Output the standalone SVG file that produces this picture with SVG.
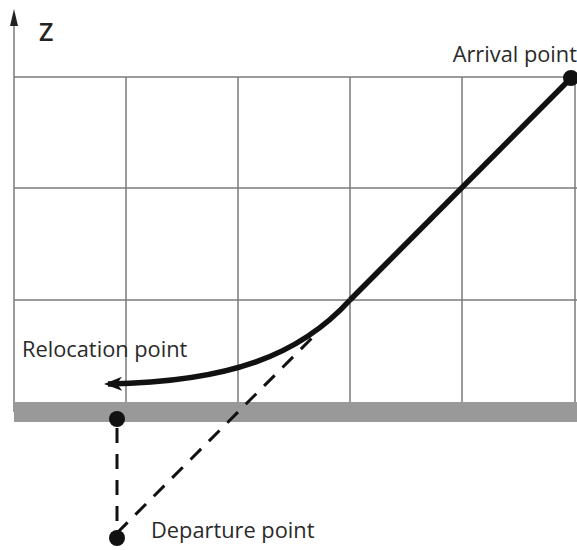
<svg xmlns="http://www.w3.org/2000/svg" width="577" height="550" viewBox="0 0 577 550">
<style>
.grid{stroke:#7a7a7a;stroke-width:1.5;fill:none}
.lbl{font-family:"Open Sans","Liberation Sans",sans-serif;font-size:21.8px;fill:#2a2a2a}
.dash{stroke:#111;stroke-width:3;stroke-dasharray:15,11;fill:none}
.dot{fill:#111}
</style>
<defs>
<marker id="ah" markerWidth="18" markerHeight="14" refX="14" refY="7" orient="auto" markerUnits="userSpaceOnUse" viewBox="0 0 18 14">
<path d="M0,0 L18,7 L0,14 L5,7 Z" fill="#111"/>
</marker>
</defs>
<rect width="577" height="550" fill="#fff"/>
<g id="grid">
<line class="grid" x1="14" y1="77" x2="577" y2="77"/>
<line class="grid" x1="14" y1="188" x2="577" y2="188"/>
<line class="grid" x1="14" y1="300" x2="577" y2="300"/>
<line class="grid" x1="126" y1="77" x2="126" y2="402"/>
<line class="grid" x1="238" y1="77" x2="238" y2="402"/>
<line class="grid" x1="350" y1="77" x2="350" y2="402"/>
<line class="grid" x1="462" y1="77" x2="462" y2="402"/>
<line class="grid" x1="575" y1="77" x2="575" y2="402"/>
</g>
<g id="axis">
<line class="grid" x1="14" y1="14" x2="14" y2="412"/>
<path d="M14,9 L18,26 L10,26 Z" fill="#222"/>
<text x="39" y="41" style="font-family:'Open Sans','Liberation Sans',sans-serif;font-size:25px;font-weight:600;fill:#222">Z</text>
</g>
<g id="ground">
<rect x="14" y="402" width="563" height="20" fill="#999"/>
</g>
<g id="connectors">
<path d="M571,78 L350,300" stroke="#111" stroke-width="5.5" fill="none"/>
<path d="M350,300 C300,355 230,382 108,384" stroke="#111" stroke-width="5.5" fill="none" marker-end="url(#ah)"/>
<line class="dash" x1="117" y1="533" x2="317" y2="333"/>
<line class="dash" x1="117" y1="428" x2="117" y2="530"/>
</g>
<g id="arrival">
<circle class="dot" cx="571" cy="78" r="8"/>
<text class="lbl" x="577" y="62" text-anchor="end">Arrival point</text>
</g>
<g id="relocation">
<circle class="dot" cx="117" cy="419" r="8"/>
<text class="lbl" x="22" y="357">Relocation point</text>
</g>
<g id="departure">
<circle class="dot" cx="117" cy="538" r="8"/>
<text class="lbl" x="151" y="538">Departure point</text>
</g>
</svg>
